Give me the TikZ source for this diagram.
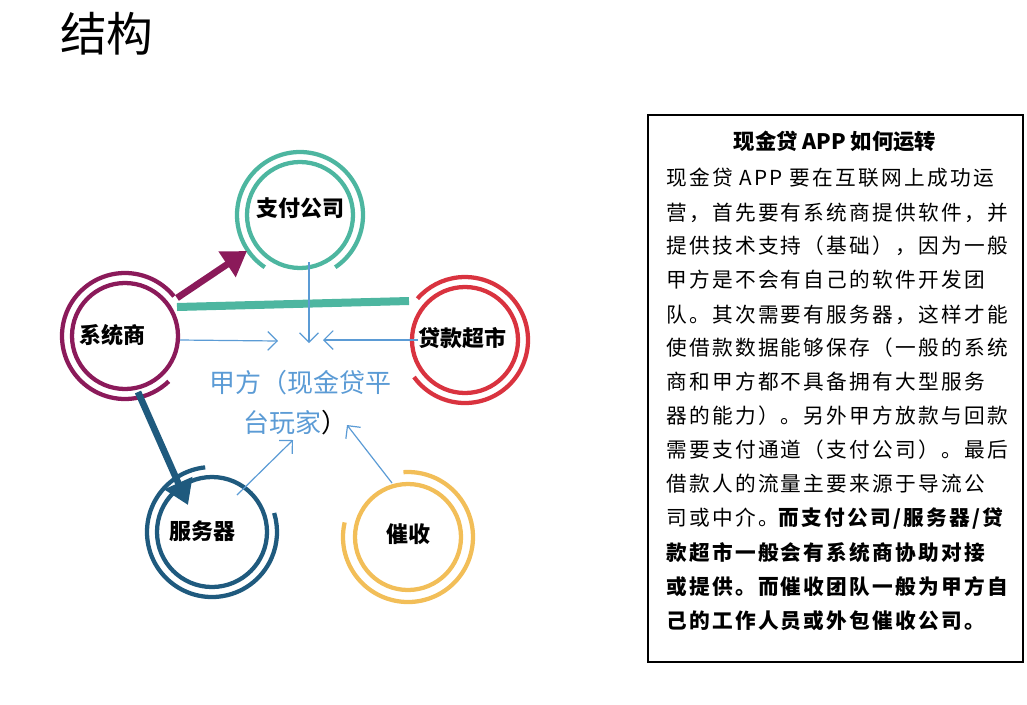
\documentclass[tikz,border=0pt]{standalone}
\usepackage{fontspec}
\setmainfont{Noto Sans CJK SC}
\newfontfamily\cjkbody[LetterSpace=11]{Noto Sans CJK SC}
\usetikzlibrary{arrows.meta,calc}
\definecolor{cteal}{HTML}{4DB6A0}
\definecolor{cpurple}{HTML}{8B1A5A}
\definecolor{cred}{HTML}{D9333F}
\definecolor{cnavy}{HTML}{1F5A7E}
\definecolor{cyel}{HTML}{F2BE58}
\definecolor{cblue}{HTML}{5B9BD5}
\tikzset{
  ring/.style={line width=3.2pt},
  lab/.style={font=\fontsize{16.5}{16.5}\selectfont\bfseries},
  thin/.style={draw=cblue, line width=0.9pt, -{Straight Barb[length=7pt,width=14pt]}},
  body/.style={anchor=west, inner sep=0pt, font=\cjkbody\fontsize{15.5}{15.5}\selectfont},
}
\begin{document}
\begin{tikzpicture}[x=0.75pt,y=-0.75pt]
\useasboundingbox (0,0) rectangle (1027,704);
\node[font=\fontsize{35}{35}\selectfont, anchor=west, inner sep=0pt] (title) at (60,34) {结构};
% circles (angles negated because y axis is flipped)
\coordinate (zf) at (300,215);
\coordinate (xt) at (125,336);
\coordinate (dk) at (465,340);
\coordinate (fw) at (212,532);
\coordinate (cs) at (408,537);
\draw[ring,cteal] (zf) circle (53);
\draw[ring,cteal] ($(zf)+(56:63)$) arc[start angle=56, end angle=-236, radius=63];
\draw[ring,cpurple] (xt) circle (53);
\draw[ring,cpurple] ($(xt)+(-39:63)$) arc[start angle=-39, end angle=-314, radius=63];
\draw[ring,cred] (dk) circle (53);
\draw[ring,cred] ($(dk)+(144:63)$) arc[start angle=144, end angle=-139, radius=63];
\draw[ring,cnavy] (fw) circle (55);
\draw[ring,cnavy] ($(fw)+(-96:65)$) arc[start angle=-96, end angle=-377, radius=65];
\draw[ring,cyel] (cs) circle (53);
\draw[ring,cyel] ($(cs)+(193:65)$) arc[start angle=193, end angle=-94, radius=65];
\node[lab] (nzf) at (300,208) {支付公司};
\node[lab] (nxt) at (112,335) {系统商};
\node[lab] (ndk) at (462,338) {贷款超市};
\node[lab] (nfw) at (202,531) {服务器};
\node[lab] (ncs) at (408,534) {催收};
\node[font=\fontsize{19.5}{19.5}\selectfont, text=cblue, inner sep=0pt] (jf1) at (300,383) {甲方（现金贷平};
\node[font=\fontsize{19.5}{19.5}\selectfont, text=cblue, inner sep=0pt] (jf2) at (295,423) {台玩家\textcolor{black}{）}};
% connectors
\coordinate (a1) at (177,298); \coordinate (a2) at (247,251);
\draw[cpurple, line width=5pt, -{Triangle[length=18pt,width=22pt]}] (a1) -- (a2);
\coordinate (t1) at (177,307); \coordinate (t2) at (409,301);
\draw[cteal, line width=6pt] (t1) -- (t2);
\coordinate (b1) at (138,392); \coordinate (b2) at (188,505);
\draw[cnavy, line width=5pt, -{Triangle[length=18pt,width=22pt]}] (b1) -- (b2);
\coordinate (c1) at (180,340); \coordinate (c2) at (278,341);
\draw[thin] (c1) -- (c2);
\coordinate (d1) at (418,340); \coordinate (d2) at (323,340);
\draw[thin] (d1) -- (d2);
\coordinate (e1) at (309,262); \coordinate (e2) at (309,343);
\draw[thin] (e1) -- (e2);
\coordinate (f1) at (237,495); \coordinate (f2) at (293,440);
\draw[thin] (f1) -- (f2);
\coordinate (g1) at (392,483); \coordinate (g2) at (347,425);
\draw[thin] (g1) -- (g2);
% box
\draw[line width=1pt] (648,115) rectangle (1023,662);
\node[font=\fontsize{16}{16}\selectfont\bfseries, inner sep=0pt] (bt) at (835,141) {现金贷 APP 如何运转};
\node[body] (l1) at (666,178) {现金贷 APP 要在互联网上成功运};
\node[body] (l2) at (666,213) {营，首先要有系统商提供软件，并};
\node[body] (l3) at (666,246) {提供技术支持（基础），因为一般};
\node[body] (l4) at (666,280) {甲方是不会有自己的软件开发团};
\node[body] (l5) at (666,315) {队。其次需要有服务器，这样才能};
\node[body] (l6) at (666,348) {使借款数据能够保存（一般的系统};
\node[body] (l7) at (666,382) {商和甲方都不具备拥有大型服务};
\node[body] (l8) at (666,416) {器的能力）。另外甲方放款与回款};
\node[body] (l9) at (666,450) {需要支付通道（支付公司）。最后};
\node[body] (l10) at (666,484) {借款人的流量主要来源于导流公};
\node[body] (l11) at (666,518) {司或中介。\bfseries 而支付公司/服务器/贷};
\node[body] (l12) at (666,553) {\bfseries 款超市一般会有系统商协助对接};
\node[body] (l13) at (666,587) {\bfseries 或提供。而催收团队一般为甲方自};
\node[body] (l14) at (666,621) {\bfseries 己的工作人员或外包催收公司。};
\end{tikzpicture}
\end{document}
